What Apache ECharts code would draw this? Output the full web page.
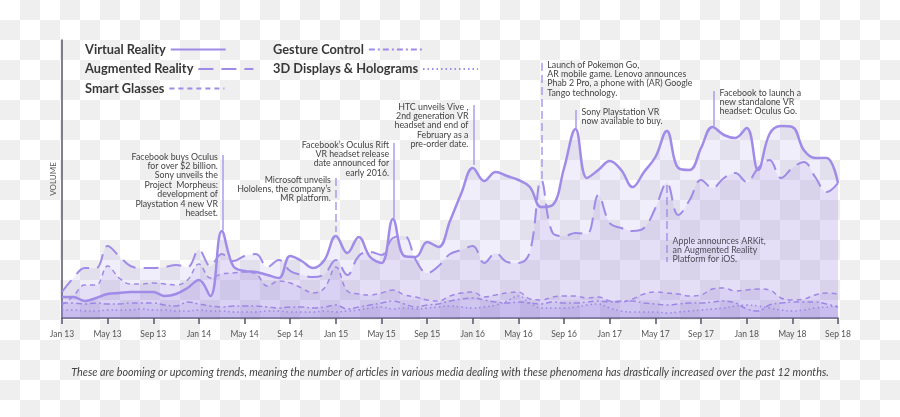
<!DOCTYPE html>
<html>
<head>
<meta charset="utf-8">
<script src="https://cdn.jsdelivr.net/npm/echarts@6/dist/echarts.min.js"></script>
<style>
  html, body { margin: 0; padding: 0; }
  #chart { width: 900px; height: 417px; }
</style>
</head>
<body>
<div id="chart"></div>
<script>
// monthly, Jan 13 .. Sep 18 (69 points), values in relative volume
const tickLabels = ['Jan 13', 'May 13', 'Sep 13', 'Jan 14', 'May 14', 'Sep 14', 'Jan 15', 'May 15', 'Sep 15',
    'Jan 16', 'May 16', 'Sep 16', 'Jan 17', 'May 17', 'Sep 17', 'Jan 18', 'May 18', 'Sep 18']

const virtualReality = [21, 21, 17, 20, 24, 25, 26, 26, 26, 22, 24, 30, 38, 22, 87, 52, 47, 46, 43, 40,
    62, 57, 50, 58, 82, 65, 81, 61, 55, 99, 62, 61, 76, 71, 97, 125, 150, 137, 146, 142,
    138, 131, 111, 113, 150, 189, 140, 148, 157, 148, 131, 146, 161, 187, 150, 148, 170, 191, 183, 180,
    190, 148, 184, 192, 191, 168, 160, 160, 135]

const augmentedReality = [26, 40, 50, 50, 72, 62, 52, 50, 50, 51, 53, 51, 68, 52, 64, 57, 62, 64, 51, 58,
    47, 43, 41, 44, 58, 43, 62, 66, 63, 80, 82, 58, 45, 52, 64, 68, 72, 55, 65, 56,
    55, 66, 138, 85, 82, 85, 84, 123, 95, 90, 87, 90, 110, 135, 103, 118, 138, 130, 140, 145,
    136, 150, 158, 140, 150, 156, 141, 126, 135]

const smartGlasses = [13, 22, 33, 33, 52, 40, 34, 34, 35, 34, 33, 38, 54, 40, 44, 45, 46, 44, 32, 37,
    35, 30, 25, 30, 51, 27, 24, 23, 25, 28, 23, 21, 18, 17, 22, 25, 26, 21, 23, 25,
    26, 19, 18, 21, 22, 22, 20, 21, 17, 16, 19, 24, 26, 25, 24, 22, 23, 29, 30, 27,
    28, 29, 28, 20, 18, 19, 23, 25, 24]

const gestureControl = [15, 15, 14, 15, 14, 14, 15, 15, 15, 13, 12, 16, 14, 12, 11, 12, 12, 12, 11, 10,
    11, 11, 10, 11, 13, 9, 11, 13, 15, 17, 14, 11, 13, 14, 17, 19, 20, 18, 16, 15,
    16, 15, 14, 16, 15, 15, 16, 17, 16, 17, 17, 15, 14, 13, 14, 15, 15, 16, 17, 15,
    9, 7, 13, 15, 16, 16, 16, 14, 11]

const displays3d = [8, 8, 7, 7, 8, 8, 8, 9, 8, 8, 7, 7, 8, 7, 7, 6, 6, 6, 7, 7,
    6, 6, 6, 7, 6, 7, 8, 10, 11, 9, 10, 9, 10, 11, 12, 11, 10, 11, 13, 17,
    22, 15, 10, 10, 10, 11, 13, 14, 10, 7, 6, 6, 6, 5, 6, 7, 8, 9, 10, 12,
    13, 12, 10, 8, 7, 8, 10, 11, 12]

// event notes: month index, line top / bottom (volume), which side the text sits on
const notes = [
    { m: 14.1, top: 163, bottom: 88, dash: false, side: 'left',
      text: 'Facebook buys Oculus\nfor over $2 billion.\nSony unveils the\nProject  Morpheus:\ndevelopment of\nPlaystation 4 new VR\nheadset.' },
    { m: 24.0, top: 140, bottom: 86, dash: true, side: 'left',
      text: 'Microsoft unveils\nHololens, the company\u2019s\nMR platform.' },
    { m: 29.1, top: 175, bottom: 100, dash: false, side: 'left',
      text: 'Facebook\u2019s Oculus Rift\nVR headset release\ndate announced for\nearly 2016.' },
    { m: 36.05, top: 213, bottom: 153, dash: false, side: 'left',
      text: 'HTC unveils Vive ,\n2nd generation VR\nheadset and end of\nFebruary as a\npre-order date.' },
    { m: 42.0, top: 255, bottom: 138, dash: true, side: 'right',
      text: 'Launch of Pokemon Go,\nAR mobile game. Lenovo announces\nPhab 2 Pro, a phone with (AR) Google\nTango technology.' },
    { m: 45.0, top: 208, bottom: 190, dash: false, side: 'right',
      text: 'Sony Playstation VR\nnow available to buy.' },
    { m: 57.1, top: 227, bottom: 192, dash: false, side: 'right',
      text: 'Facebook to launch a\nnew standalone VR\nheadset: Oculus Go.' },
    { m: 52.98, top: 133, bottom: 56, dash: true, side: 'right', textTop: 79,
      text: 'Apple announces ARKit,\nan Augmented Reality\nPlatform for iOS.' }
]

const lineColor = '#a08ce8'
const textColor = '#434343'
const fontFamily = 'Lato, "Open Sans", sans-serif'

// transparent-png look behind the chart
const tile = document.createElement('canvas')
tile.width = 40
tile.height = 40
const tctx = tile.getContext('2d')
tctx.fillStyle = '#ffffff'
tctx.fillRect(0, 0, 40, 40)
tctx.fillStyle = '#efefef'
tctx.fillRect(20, 0, 20, 20)
tctx.fillRect(0, 20, 20, 20)

const toPairs = arr => arr.map((v, i) => [i, v])

function makeSeries(name, data, width, type, z) {
    return {
        name: name,
        type: 'line',
        smooth: 0.4,
        symbol: 'none',
        z: z,
        data: toPairs(data),
        lineStyle: { color: lineColor, width: width, type: type },
        itemStyle: { color: lineColor },
        areaStyle: { color: 'rgba(150, 128, 228, 0.19)' },
        emphasis: { disabled: true }
    }
}

const seriesList = [
    makeSeries('3D Displays & Holograms', displays3d, 1.5, [1.5, 3], 2),
    makeSeries('Gesture Control', gestureControl, 1.5, [6, 3, 2, 3], 3),
    makeSeries('Smart Glasses', smartGlasses, 1.5, [5, 4], 4),
    makeSeries('Augmented Reality', augmentedReality, 2, [15, 8], 5),
    makeSeries('Virtual Reality', virtualReality, 2.5, 'solid', 6)
]

// notes are drawn on the top series
const vr = seriesList[4]
vr.markLine = {
    silent: true,
    animation: false,
    symbol: ['none', 'none'],
    label: { show: false },
    data: notes.map(n => [
        { coord: [n.m, n.top], lineStyle: { color: '#ab9cec', width: 1.5, type: n.dash ? [8, 4] : 'solid' } },
        { coord: [n.m, n.bottom] }
    ])
}
vr.markPoint = {
    silent: true,
    animation: false,
    symbol: 'circle',
    symbolSize: 0,
    data: notes.map(n => ({
        coord: [n.m, n.textTop != null ? n.textTop : n.top],
        label: {
            show: true,
            formatter: n.text,
            position: n.side === 'left' ? [-5, -3] : [6, -3],
            align: n.side === 'left' ? 'right' : 'left',
            verticalAlign: 'top',
            color: textColor,
            fontSize: 8.8,
            lineHeight: 9.4,
            fontFamily: fontFamily
        }
    }))
}

const chart = echarts.init(document.getElementById('chart'))

// one legend per row so each sample line follows its own label
function legendRow(name, left, top) {
    return {
        data: [name],
        left: left,
        top: top,
        align: 'right',
        itemWidth: 55,
        itemHeight: 14,
        selectedMode: false,
        itemStyle: { opacity: 0 },
        textStyle: { color: '#383838', fontSize: 12.8, fontWeight: 'bold', fontFamily: fontFamily }
    }
}

const option = {
    animation: false,
    backgroundColor: { image: tile, repeat: 'repeat' },
    title: {
        text: 'These are booming or upcoming trends, meaning the number of articles in various media dealing with these phenomena has drastically increased over the past 12 months.',
        left: 'center',
        top: 362,
        textStyle: { color: textColor, fontSize: 10.8, fontStyle: 'italic', fontWeight: 'normal', fontFamily: fontFamily }
    },
    legend: [
        legendRow('Virtual Reality', 80, 38),
        legendRow('Augmented Reality', 80, 57.5),
        legendRow('Smart Glasses', 80, 77),
        legendRow('Gesture Control', 268, 38),
        legendRow('3D Displays & Holograms', 268, 57.5)
    ],
    grid: { left: 62, right: 62, top: 40, bottom: 99 },
    xAxis: {
        type: 'value',
        min: 0,
        max: 68,
        interval: 4,
        splitLine: { show: false },
        axisLine: { show: true, lineStyle: { color: '#56566a', width: 1.5 } },
        axisTick: { show: true, length: 6, lineStyle: { color: '#56566a', width: 1.5 } },
        axisLabel: {
            color: '#555',
            fontSize: 8.5,
            margin: 12,
            fontFamily: fontFamily,
            formatter: v => tickLabels[v / 4]
        }
    },
    yAxis: {
        type: 'value',
        min: 0,
        max: 278,
        name: 'VOLUME',
        nameLocation: 'middle',
        nameGap: 5,
        nameTextStyle: { color: '#555', fontSize: 8, fontFamily: fontFamily },
        splitLine: { show: false },
        axisTick: { show: false },
        axisLabel: { show: false },
        axisLine: { show: true, lineStyle: { color: '#56566a', width: 1.5 } }
    },
    series: seriesList
}

chart.setOption(option)
</script>
</body>
</html>
